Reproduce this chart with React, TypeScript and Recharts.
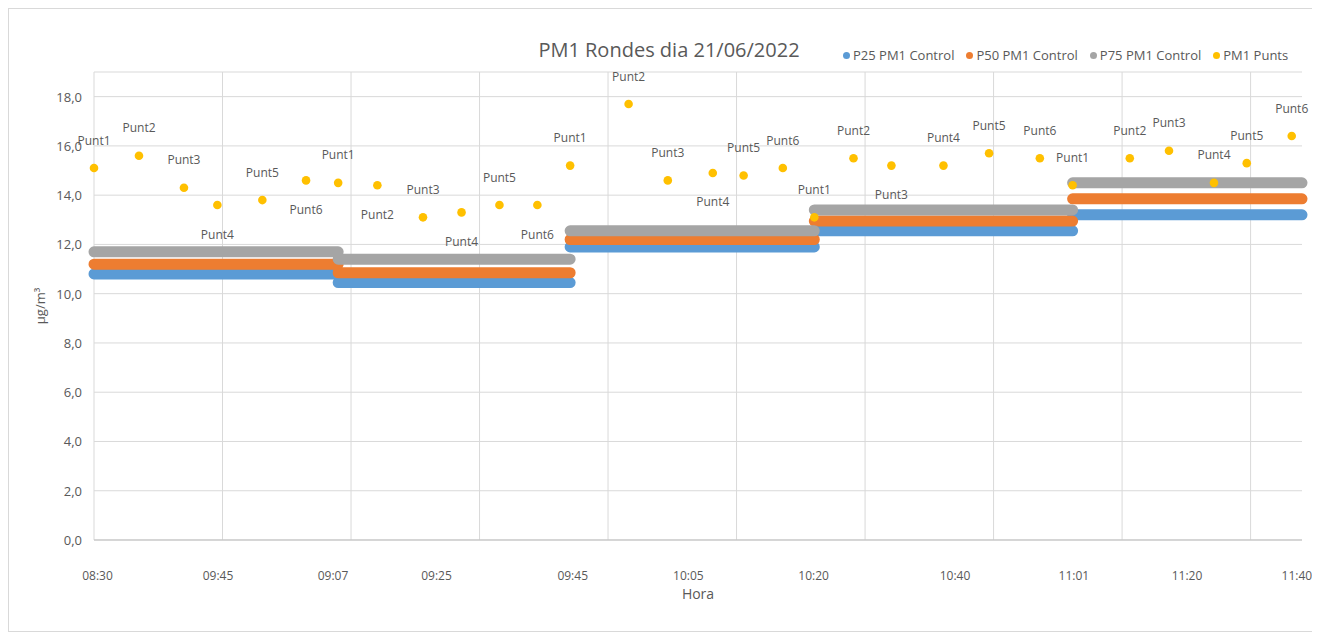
import React from 'react';
import { ComposedChart, Line, Scatter, XAxis, YAxis, CartesianGrid } from 'recharts';

// ---- Data ----
const pointNames = [
  'Punt1', 'Punt2', 'Punt3', 'Punt4', 'Punt5', 'Punt6',
  'Punt1', 'Punt2', 'Punt3', 'Punt4', 'Punt5', 'Punt6',
  'Punt1', 'Punt2', 'Punt3', 'Punt4', 'Punt5', 'Punt6',
  'Punt1', 'Punt2', 'Punt3', 'Punt4', 'Punt5', 'Punt6',
  'Punt1', 'Punt2', 'Punt3', 'Punt4', 'Punt5', 'Punt6',
];
// minutes after 08:30
const pointTimes = [
  0, 7.0, 14.0, 19.2, 26.2, 33.0,
  38.0, 44.1, 51.2, 57.2, 63.1, 69.0,
  74.1, 83.2, 89.3, 96.3, 101.1, 107.2,
  112.1, 118.2, 124.1, 132.2, 139.3, 147.2,
  152.3, 161.2, 167.3, 174.3, 179.4, 186.4,
];
const pm1Values = [
  15.1, 15.6, 14.3, 13.6, 13.8, 14.6,
  14.5, 14.4, 13.1, 13.3, 13.6, 13.6,
  15.2, 17.7, 14.6, 14.9, 14.8, 15.1,
  13.1, 15.5, 15.2, 15.2, 15.7, 15.5,
  14.4, 15.5, 15.8, 14.5, 15.3, 16.4,
];
const pointLabelBelow = [
  false, false, false, true, false, true,
  false, true, false, true, false, true,
  false, false, false, true, false, false,
  false, false, true, false, false, false,
  false, false, false, false, false, false,
];

const roundStarts = [0, 38.0, 74.1, 112.1, 152.3];
const periodEnd = 188;
const p25Values = [10.8, 10.45, 11.9, 12.55, 13.2];
const p50Values = [11.2, 10.85, 12.2, 12.95, 13.85];
const p75Values = [11.7, 11.4, 12.55, 13.4, 14.5];

const xTickTimes = [0.55, 19.3, 37.2, 53.3, 74.5, 92.5, 112.0, 134.0, 152.5, 170.1, 187.2];
const xTickLabels = ['08:30', '09:45', '09:07', '09:25', '09:45', '10:05', '10:20', '10:40', '11:01', '11:20', '11:40'];
const xGridTimes = [0, 20, 40, 60, 80, 100, 120, 140, 160, 180];
const yTicks = [0, 2, 4, 6, 8, 10, 12, 14, 16, 18];

const seriesInfo = [
  { name: 'P25 PM1 Control', color: '#5B9BD5' },
  { name: 'P50 PM1 Control', color: '#ED7D31' },
  { name: 'P75 PM1 Control', color: '#A5A5A5' },
  { name: 'PM1 Punts', color: '#FFC000' },
];

// ---- Derived tables ----
function stepData(values: number[]) {
  const out: { x: number; v: number | null }[] = [];
  values.forEach((v, i) => {
    const end = i < roundStarts.length - 1 ? roundStarts[i + 1] : periodEnd;
    out.push({ x: roundStarts[i], v }, { x: end, v });
    if (i < values.length - 1) out.push({ x: end, v: null });
  });
  return out;
}

const pointData = pointTimes.map((x, i) => ({
  x,
  v: pm1Values[i],
  name: pointNames[i],
  below: pointLabelBelow[i],
}));

const TEXT = '#595959';
const FONT = "'Open Sans', 'Noto Sans', sans-serif";

const XTick = (props: any) => {
  const { x, y, payload } = props;
  const idx = xTickTimes.indexOf(payload.value);
  return (
    <text x={x} y={y + 35} textAnchor="middle" dominantBaseline="central" fontSize={12} fill={TEXT} fontFamily={FONT}>
      {idx >= 0 ? xTickLabels[idx] : ''}
    </text>
  );
};

const YTick = (props: any) => {
  const { x, y, payload } = props;
  return (
    <text x={x - 12} y={y} textAnchor="end" dominantBaseline="central" fontSize={13} fill={TEXT} fontFamily={FONT}>
      {Number(payload.value).toFixed(1).replace('.', ',')}
    </text>
  );
};

const renderPoint = (props: any) => {
  const { payload } = props;
  const cx = props.cx ?? props.x + (props.width || 0) / 2;
  const cy = props.cy ?? props.y + (props.height || 0) / 2;
  const ly = payload.below ? cy + 29 : cy - 28;
  return (
    <g>
      <circle cx={cx} cy={cy} r={4.3} fill="#FFC000" />
      <text x={cx} y={ly} textAnchor="middle" dominantBaseline="central" fontSize={12} fill={TEXT} fontFamily={FONT}>
        {payload.name}
      </text>
    </g>
  );
};

const verticalGen = (args: any) => {
  const { xAxis, offset } = args;
  if (xAxis && typeof xAxis.scale === 'function') {
    return xGridTimes.map((t) => xAxis.scale(t));
  }
  return xGridTimes.map((t) => offset.left + (t / periodEnd) * offset.width);
};

const XLabel = (props: any) => {
  const vb = props.viewBox || {};
  return (
    <text x={vb.x + vb.width / 2} y={vb.y + 53} textAnchor="middle" dominantBaseline="central" fontSize={14} fill={TEXT} fontFamily={FONT}>
      Hora
    </text>
  );
};

const YLabel = (props: any) => {
  const vb = props.viewBox || {};
  const cx = vb.x + 6;
  const cy = vb.y + vb.height / 2;
  return (
    <text x={cx} y={cy} transform={`rotate(-90 ${cx} ${cy})`} textAnchor="middle" dominantBaseline="central" fontSize={13} fill={TEXT} fontFamily={FONT}>
      µg/m³
    </text>
  );
};

export default function App() {
  return (
    <div
      style={{
        position: 'relative',
        width: 1306,
        height: 624,
        boxSizing: 'border-box',
        border: '1px solid #D9D9D9',
        background: '#fff',
        fontFamily: FONT,
      }}
    >
      <div
        style={{
          position: 'absolute',
          left: 410,
          width: 500,
          top: 27,
          textAlign: 'center',
          fontSize: 20,
          lineHeight: '28px',
          color: TEXT,
        }}
      >
        PM1 Rondes dia 21/06/2022
      </div>
      <div
        style={{
          position: 'absolute',
          left: 834,
          top: 38,
          height: 16,
          display: 'flex',
          alignItems: 'center',
          gap: 12,
          fontSize: 13,
          color: TEXT,
          whiteSpace: 'nowrap',
        }}
      >
        {seriesInfo.map((s) => (
          <div key={s.name} style={{ display: 'flex', alignItems: 'center', gap: 3 }}>
            <span style={{ width: 7, height: 7, borderRadius: '50%', background: s.color, display: 'inline-block' }} />
            <span>{s.name}</span>
          </div>
        ))}
      </div>
      <ComposedChart
        width={1304}
        height={622}
        margin={{ top: 63, right: 11, bottom: 51, left: 25 }}
      >
        <CartesianGrid stroke="#D9D9D9" verticalCoordinatesGenerator={verticalGen} />
        <XAxis
          type="number"
          dataKey="x"
          domain={[0, periodEnd]}
          ticks={xTickTimes}
          tick={<XTick />}
          tickLine={false}
          tickSize={0}
          tickMargin={0}
          axisLine={{ stroke: '#BFBFBF' }}
          height={40}
          interval={0}
          label={<XLabel />}
        />
        <YAxis
          type="number"
          domain={[0, 19]}
          ticks={yTicks}
          tick={<YTick />}
          tickLine={false}
          tickSize={0}
          tickMargin={0}
          axisLine={false}
          width={60}
          interval={0}
          label={<YLabel />}
        />
        <Line
          data={stepData(p25Values)}
          dataKey="v"
          name={seriesInfo[0].name}
          stroke={seriesInfo[0].color}
          strokeWidth={11}
          strokeLinecap="round"
          strokeLinejoin="round"
          dot={false}
          activeDot={false}
          isAnimationActive={false}
        />
        <Line
          data={stepData(p50Values)}
          dataKey="v"
          name={seriesInfo[1].name}
          stroke={seriesInfo[1].color}
          strokeWidth={11}
          strokeLinecap="round"
          strokeLinejoin="round"
          dot={false}
          activeDot={false}
          isAnimationActive={false}
        />
        <Line
          data={stepData(p75Values)}
          dataKey="v"
          name={seriesInfo[2].name}
          stroke={seriesInfo[2].color}
          strokeWidth={11}
          strokeLinecap="round"
          strokeLinejoin="round"
          dot={false}
          activeDot={false}
          isAnimationActive={false}
        />
        <Scatter
          data={pointData}
          dataKey="v"
          name={seriesInfo[3].name}
          fill={seriesInfo[3].color}
          shape={renderPoint}
          isAnimationActive={false}
        />
      </ComposedChart>
    </div>
  );
}
